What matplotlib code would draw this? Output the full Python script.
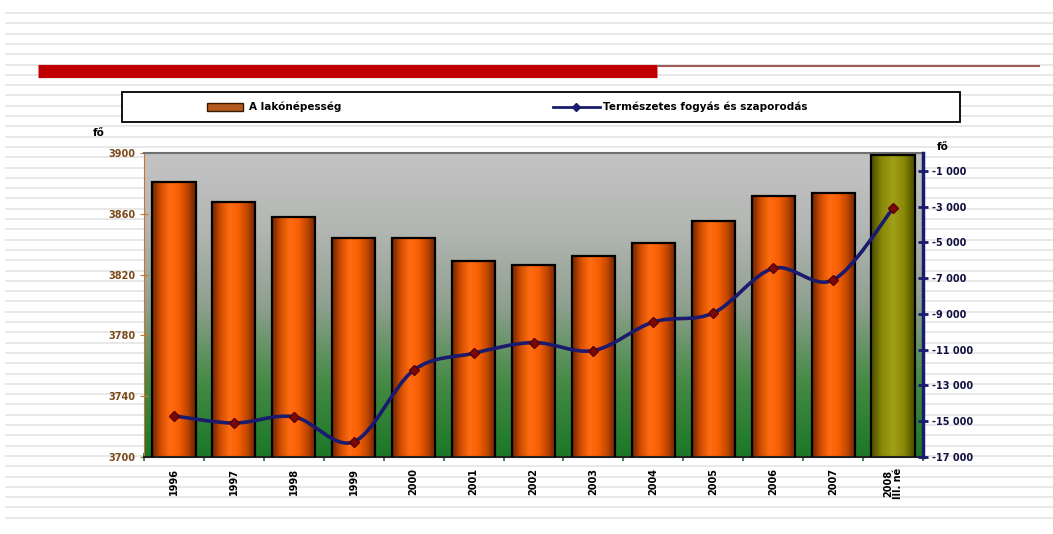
import numpy as np
import matplotlib
matplotlib.use("Agg")
import matplotlib.pyplot as plt
from matplotlib.colors import LinearSegmentedColormap
from matplotlib.path import Path
from matplotlib.patches import PathPatch, Rectangle
from matplotlib.lines import Line2D

# ---------------- data ----------------
categories = ["1996", "1997", "1998", "1999", "2000", "2001", "2002", "2003",
              "2004", "2005", "2006", "2007", "2008\nIII. né"]
population = [3881, 3868, 3858, 3844, 3844, 3829, 3826, 3832, 3841, 3855, 3872, 3874, 3899]
natural_change = [-14700, -15100, -14750, -16150, -12150, -11200, -10600, -11050,
                  -9450, -8950, -6450, -7100, -3100]
left_ticks = [3700, 3740, 3780, 3820, 3860, 3900]
right_ticks = [-17000, -15000, -13000, -11000, -9000, -7000, -5000, -3000, -1000]
legend_labels = ["A lakónépesség", "Természetes fogyás és szaporodás"]
unit_label = "fő"

W, H = 1053, 534
fig = plt.figure(figsize=(W / 100, H / 100), dpi=100)
fig.patch.set_facecolor("white")

# striped page background
bg = fig.add_axes([0, 0, 1, 1], zorder=-10)
bg.set_xlim(0, W)
bg.set_ylim(H, 0)
bg.axis("off")
for yy in np.arange(13, 528, 10.3):
    bg.plot([5, W], [yy, yy], color="#e4e4e4", lw=1.2, solid_capstyle="butt")
# red header bar
bg.plot([38, 657], [70.5, 70.5], color="#c00000", lw=9.5, solid_capstyle="butt")
bg.plot([657, 1040], [66, 66], color="#a05a5a", lw=1.5, solid_capstyle="butt")
# legend box
bg.add_patch(Rectangle((122, 92), 838, 30, facecolor="white", edgecolor="black", lw=1.3, zorder=3))
bg.add_patch(Rectangle((207, 103), 36, 8, facecolor="#b35a1f", edgecolor="#3a1a00", lw=1, zorder=4))
bg.text(249, 107, legend_labels[0], fontsize=7.5, fontweight="bold", va="center", ha="left", zorder=4)
bg.add_line(Line2D([553, 600], [107, 107], color="#1a1a6e", lw=2, zorder=4))
bg.add_line(Line2D([576], [107], color="#1a1a6e", marker="D", ms=4, zorder=5))
bg.text(603, 107, legend_labels[1], fontsize=7.5, fontweight="bold", va="center", ha="left", zorder=4)

# ---------------- main axes ----------------
left, right, top, bottom = 144, 923, 153, 457
ax = fig.add_axes([left / W, 1 - bottom / H, (right - left) / W, (bottom - top) / H])
x = np.arange(len(categories))
ax.set_xlim(-0.5, len(categories) - 0.5)
ax.set_ylim(left_ticks[0], left_ticks[-1])

# plot-area gradient (gray -> green)
bg_cmap = LinearSegmentedColormap.from_list(
    "bgc", [(0.0, "#1a7826"), (0.25, "#468a46"), (0.5, "#8fa08f"), (0.75, "#b3b6b3"), (1.0, "#c4c4c4")])
grad = np.linspace(0, 1, 256).reshape(-1, 1)
ax.imshow(grad, cmap=bg_cmap, extent=[0, 1, 0, 1], transform=ax.transAxes,
          aspect="auto", origin="lower", zorder=0)

orange_cmap = LinearSegmentedColormap.from_list(
    "org", ["#6e2400", "#d24e00", "#ff6c12", "#f85f05", "#c24800", "#6a2000"])
olive_cmap = LinearSegmentedColormap.from_list(
    "olv", ["#4a4a00", "#8a8a08", "#a0a018", "#8a8a08", "#4a4a00"])
hgrad = np.linspace(0, 1, 128).reshape(1, -1)

bars = ax.bar(x, population, width=0.72, facecolor="none", edgecolor="black", lw=1.6, zorder=3)
for i, b in enumerate(bars):
    cm = olive_cmap if i == len(bars) - 1 else orange_cmap
    im = ax.imshow(hgrad, cmap=cm, aspect="auto",
                   extent=[b.get_x(), b.get_x() + b.get_width(), left_ticks[0], b.get_height()],
                   zorder=2)
    im.set_clip_path(b)
ax.set_xlim(-0.5, len(categories) - 0.5)
ax.set_ylim(left_ticks[0], left_ticks[-1])

ax.set_yticks(left_ticks)
ax.set_yticklabels([str(v) for v in left_ticks], fontsize=7, fontweight="bold", color="#7a4a1a")
ax.tick_params(axis="y", direction="inout", length=6, color="#c87533", pad=3)
ax.set_xticks(x)
ax.set_xticklabels(categories, rotation=90, fontsize=7, fontweight="bold", linespacing=0.9)
ax.tick_params(axis="x", length=0, pad=8)
ax.set_xticks(np.arange(-0.5, len(categories), 1), minor=True)
ax.tick_params(axis="x", which="minor", direction="inout", length=6, color="#2a6a2a", width=1.2)
ax.spines["left"].set_color("#c87533")
ax.spines["bottom"].set_color("#202020")
ax.spines["bottom"].set_linewidth(1.5)
ax.spines["top"].set_color("#707070")
ax.spines["top"].set_linewidth(1.5)
ax.spines["right"].set_visible(False)

# secondary axis with smooth line
ax2 = ax.twinx()
ax2.set_ylim(-17000, 0)
ax2.patch.set_visible(False)
px = np.asarray(x, dtype=float)
py = np.asarray(natural_change, dtype=float)
n = len(px)
verts = [(px[0], py[0])]
codes = [Path.MOVETO]
for i in range(n - 1):
    p0 = np.array([px[max(i - 1, 0)], py[max(i - 1, 0)]])
    p1 = np.array([px[i], py[i]])
    p2 = np.array([px[i + 1], py[i + 1]])
    p3 = np.array([px[min(i + 2, n - 1)], py[min(i + 2, n - 1)]])
    c1 = p1 + (p2 - p0) / 6.0
    c2 = p2 - (p3 - p1) / 6.0
    verts += [tuple(c1), tuple(c2), tuple(p2)]
    codes += [Path.CURVE4] * 3
ax2.add_patch(PathPatch(Path(verts, codes), facecolor="none", edgecolor="#1a1a6e", lw=2.6, zorder=4))
ax2.plot(px, py, linestyle="none", marker="D", ms=5, color="#7a0a0a", mec="#5a0000", zorder=5)

ax2.set_yticks(right_ticks)
ax2.set_yticklabels([f"{v:,}".replace(",", " ") for v in right_ticks], fontsize=7,
                    fontweight="bold", color="#101040")
ax2.tick_params(axis="y", direction="inout", length=7, width=2, color="#1a1a6e", pad=3)
ax2.spines["right"].set_color("#1a1a6e")
ax2.spines["right"].set_linewidth(2.5)
for s in ["left", "top", "bottom"]:
    ax2.spines[s].set_visible(False)

fig.text(93 / W, 1 - 133 / H, unit_label, fontsize=7.5, fontweight="bold", ha="left", va="center")
fig.text(937 / W, 1 - 147 / H, unit_label, fontsize=7.5, fontweight="bold", ha="left", va="center")

fig.savefig("out.png", dpi=100)
